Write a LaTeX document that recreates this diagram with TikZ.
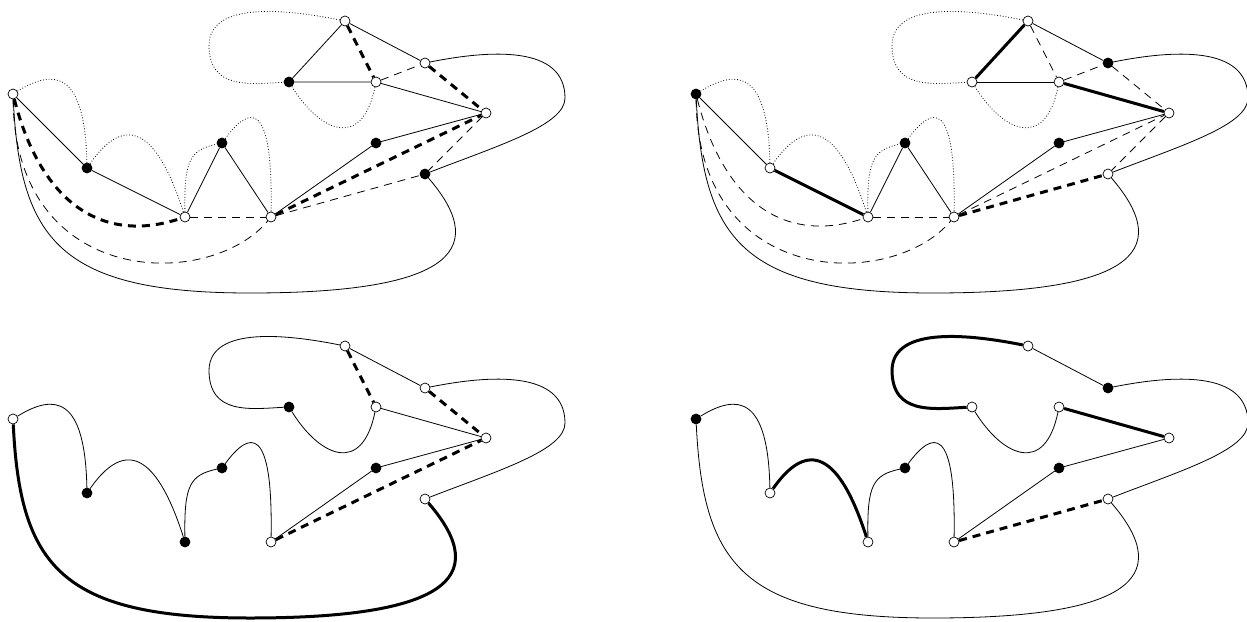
\documentclass[tikz,border=0pt]{standalone}
\usepackage{tikz}

\tikzset{
  wv/.style={circle,draw,fill=white,line width=0.7pt,inner sep=0pt,minimum size=10pt},
  bv/.style={circle,draw,fill=black,line width=0.7pt,inner sep=0pt,minimum size=10pt},
  plain/.style={line width=0.8pt},
  heavy/.style={line width=3pt},
  dotl/.style={line width=0.8pt,dotted},
  dashl/.style={line width=0.8pt,dash pattern=on 8pt off 6pt},
  hdashl/.style={line width=3pt,dash pattern=on 8pt off 6pt},
}

% curved edges, #1 = panel prefix
\newcommand{\crvAB}[1]{(#1A) .. controls (55,68) and (85,72) .. (#1B)}
\newcommand{\crvBC}[1]{(#1B) .. controls (115,128) and (150,108) .. (#1C)}
\newcommand{\crvCD}[1]{(#1C) .. controls (184,160) and (190,150) .. (#1D)}
\newcommand{\crvDE}[1]{(#1D) .. controls (250,105) and (273,100) .. (#1E)}
\newcommand{\crvLI}[1]{(#1L) .. controls (290,10) and (210,0) .. (209,45) .. controls (209,90) and (250,84) .. (#1I)}
\newcommand{\crvIJ}[1]{(#1I) .. controls (320,132) and (362,150) .. (#1J)}
\newcommand{\crvKH}[1]{(#1K) .. controls (490,50) and (565,45) .. (565,98) .. controls (565,125) and (500,145) .. (#1H)}
\newcommand{\crvHA}[1]{(#1H) .. controls (495,255) and (440,293) .. (250,293) .. controls (60,293) and (20,240) .. (#1A)}
\newcommand{\crvAC}[1]{(#1A) .. controls (40,200) and (100,245) .. (#1C)}
\newcommand{\crvAE}[1]{(#1A) .. controls (15,290) and (210,290) .. (#1E)}

\begin{document}
\begin{tikzpicture}[x=1pt,y=-1pt,line join=round]
  \useasboundingbox (0,0) rectangle (1247,621);

  % top left
  \begin{scope}
    \foreach \n/\x/\y/\s in {A/13/94/wv,B/87/168/bv,C/185/217/wv,D/222/143/bv,
      E/271/217/wv,F/376/143/bv,G/486/113/wv,H/425/174/bv,I/289/82/bv,
      J/376/82/wv,K/425/63/wv,L/345/21/wv}
      \node[\s] (tl\n) at (\x,\y) {};
    \draw[dotl] \crvAB{tl};
    \draw[dotl] \crvBC{tl};
    \draw[dotl] \crvCD{tl};
    \draw[dotl] \crvDE{tl};
    \draw[dotl] \crvLI{tl};
    \draw[dotl] \crvIJ{tl};
    \draw[plain] (tlA) -- (tlB) -- (tlC) -- (tlD) -- (tlE) -- (tlF) -- (tlG);
    \draw[plain] (tlK) -- (tlL) -- (tlI) -- (tlJ) -- (tlG);
    \draw[plain] \crvKH{tl};
    \draw[plain] \crvHA{tl};
    \draw[dashl] \crvAE{tl};
    \draw[dashl] (tlC) -- (tlE);
    \draw[dashl] (tlE) -- (tlH);
    \draw[dashl] (tlG) -- (tlH);
    \draw[dashl] (tlJ) -- (tlK);
    \draw[hdashl] \crvAC{tl};
    \draw[hdashl] (tlE) -- (tlG);
    \draw[hdashl] (tlK) -- (tlG);
    \draw[hdashl] (tlL) -- (tlJ);
  \end{scope}

  % top right
  \begin{scope}[shift={(683,0)}]
    \foreach \n/\x/\y/\s in {A/13/94/bv,B/87/168/wv,C/185/217/wv,D/222/143/bv,
      E/271/217/wv,F/376/143/bv,G/486/113/wv,H/425/174/wv,I/289/82/wv,
      J/376/82/wv,K/425/63/bv,L/345/21/wv}
      \node[\s] (tr\n) at (\x,\y) {};
    \draw[dotl] \crvAB{tr};
    \draw[dotl] \crvBC{tr};
    \draw[dotl] \crvCD{tr};
    \draw[dotl] \crvDE{tr};
    \draw[dotl] \crvLI{tr};
    \draw[dotl] \crvIJ{tr};
    \draw[plain] (trA) -- (trB);
    \draw[plain] (trC) -- (trD) -- (trE) -- (trF) -- (trG);
    \draw[plain] (trK) -- (trL);
    \draw[plain] (trI) -- (trJ);
    \draw[heavy] (trB) -- (trC);
    \draw[heavy] (trL) -- (trI);
    \draw[heavy] (trJ) -- (trG);
    \draw[plain] \crvKH{tr};
    \draw[plain] \crvHA{tr};
    \draw[dashl] \crvAC{tr};
    \draw[dashl] \crvAE{tr};
    \draw[dashl] (trC) -- (trE);
    \draw[dashl] (trE) -- (trG);
    \draw[dashl] (trG) -- (trH);
    \draw[dashl] (trK) -- (trG);
    \draw[dashl] (trJ) -- (trK);
    \draw[dashl] (trL) -- (trJ);
    \draw[hdashl] (trE) -- (trH);
  \end{scope}

  % bottom left
  \begin{scope}[shift={(0,325)}]
    \foreach \n/\x/\y/\s in {A/13/94/wv,B/87/168/bv,C/185/217/bv,D/222/143/bv,
      E/271/217/wv,F/376/143/bv,G/486/113/wv,H/425/174/wv,I/289/82/bv,
      J/376/82/wv,K/425/63/wv,L/345/21/wv}
      \node[\s] (bl\n) at (\x,\y) {};
    \draw[plain] \crvAB{bl};
    \draw[plain] \crvBC{bl};
    \draw[plain] \crvCD{bl};
    \draw[plain] \crvDE{bl};
    \draw[plain] \crvLI{bl};
    \draw[plain] \crvIJ{bl};
    \draw[plain] \crvKH{bl};
    \draw[heavy] \crvHA{bl};
    \draw[plain] (blE) -- (blF) -- (blG);
    \draw[plain] (blJ) -- (blG);
    \draw[plain] (blL) -- (blK);
    \draw[hdashl] (blL) -- (blJ);
    \draw[hdashl] (blK) -- (blG);
    \draw[hdashl] (blE) -- (blG);
  \end{scope}

  % bottom right
  \begin{scope}[shift={(683,325)}]
    \foreach \n/\x/\y/\s in {A/13/94/bv,B/87/168/wv,C/185/217/wv,D/222/143/bv,
      E/271/217/wv,F/376/143/bv,G/486/113/wv,H/425/174/wv,I/289/82/wv,
      J/376/82/wv,K/425/63/bv,L/345/21/wv}
      \node[\s] (br\n) at (\x,\y) {};
    \draw[plain] \crvAB{br};
    \draw[heavy] \crvBC{br};
    \draw[plain] \crvCD{br};
    \draw[plain] \crvDE{br};
    \draw[heavy] \crvLI{br};
    \draw[plain] \crvIJ{br};
    \draw[plain] \crvKH{br};
    \draw[plain] \crvHA{br};
    \draw[plain] (brE) -- (brF) -- (brG);
    \draw[heavy] (brJ) -- (brG);
    \draw[plain] (brL) -- (brK);
    \draw[hdashl] (brE) -- (brH);
  \end{scope}
\end{tikzpicture}
\end{document}
